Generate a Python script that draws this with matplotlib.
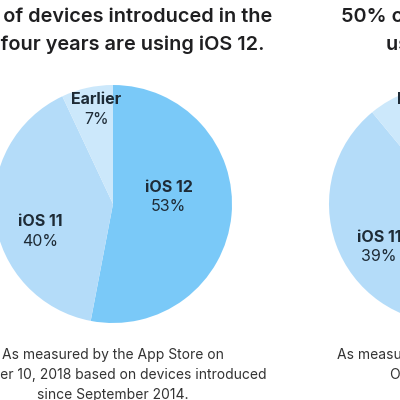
import matplotlib
matplotlib.use("Agg")
import matplotlib.pyplot as plt

plt.rcParams['font.family'] = ['Inter', 'DejaVu Sans']

# ---- data ----
categories_1 = ["iOS 12", "iOS 11", "Earlier"]
values_1 = [53, 40, 7]
title_1 = ["53% of devices introduced in the", "last four years are using iOS 12."]
note_1 = ["As measured by the App Store on",
          "October 10, 2018 based on devices introduced",
          "since September 2014."]

categories_2 = ["iOS 12", "iOS 11", "Earlier"]
values_2 = [50, 39, 11]
title_2 = ["50% of all devices are", "using iOS 12."]
note_2 = ["As measured by the App Store on", "October 10, 2018."]

colors = ["#7ac9f8", "#b4dcf9", "#cce8fb"]

# ---- layout (pixel coords, y downward) ----
W = H = 400
fig = plt.figure(figsize=(4, 4), dpi=100)
ax = fig.add_axes([0, 0, 1, 1])

def Y(y):
    return H - y

R = 119
charts = [
    dict(cx=113, cy=204, cats=categories_1, vals=values_1, title=title_1, note=note_1,
         offs={"iOS 12": (55.5, -17), "iOS 11": (-73, 18), "Earlier": (-16.5, -104)}),
    dict(cx=448, cy=204, cats=categories_2, vals=values_2, title=title_2, note=note_2,
         offs={"iOS 12": (55.5, -17), "iOS 11": (-69, 33), "Earlier": (-26, -104)}),
]

title_color = "#1f1f21"
label_color = "#1e2b36"

for c in charts:
    ax.pie(c["vals"], colors=colors, startangle=90, counterclock=False,
           center=(c["cx"], Y(c["cy"])), radius=R,
           wedgeprops=dict(linewidth=0), frame=True)
    for cat, val in zip(c["cats"], c["vals"]):
        dx, dy = c["offs"][cat]
        x = c["cx"] + dx
        y = c["cy"] + dy
        ax.text(x, Y(y), cat, ha="center", va="center", fontsize=11.5,
                fontweight="bold", color=label_color)
        ax.text(x, Y(y + 19.5), f"{val}%", ha="center", va="center", fontsize=11.5,
                color=label_color)
    for i, line in enumerate(c["title"]):
        ax.text(c["cx"], Y(17 + 28 * i), line, ha="center", va="center",
                fontsize=14.3, fontweight="semibold", color=title_color)
    for i, line in enumerate(c["note"]):
        ax.text(c["cx"], Y(355 + 20 * i), line, ha="center", va="center",
                fontsize=10.0, color="#333333")

ax.set_xlim(0, W)
ax.set_ylim(0, H)
ax.set_aspect("equal")
ax.axis("off")
fig.savefig("out.png", dpi=100, facecolor="white")
